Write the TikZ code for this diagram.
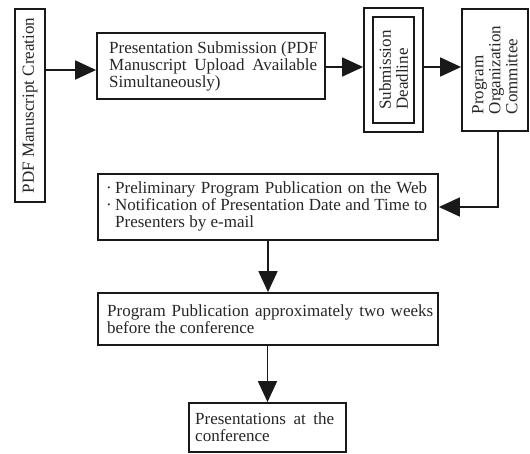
\documentclass[tikz,border=0pt]{standalone}
\usepackage{fontspec}
\setmainfont{Liberation Serif}
\usetikzlibrary{arrows.meta}
\begin{document}
\begin{tikzpicture}[x=1pt,y=-1pt,
  box/.style={draw=black!90, line width=1.8pt, inner sep=0pt, rectangle},
  txt/.style={font=\fontsize{17pt}{17pt}\selectfont, text=black!85, inner sep=0pt},
  arr/.style={draw=black!90, line width=1.8pt, -{Triangle[length=21pt,width=19pt]}}]
\useasboundingbox (0,0) rectangle (530,453);
% boxes
\node[box, minimum width=30pt, minimum height=193pt] (b1) at (30,105.5) {};
\node[txt, rotate=90] (t1) at (b1.center) {PDF Manuscript Creation};

\node[box, minimum width=228pt, minimum height=66pt] (b2) at (211,66) {};
\node[txt, anchor=west, align=left] (t2) at (109,66) {Presentation Submission (PDF\\
\makebox[208pt][s]{Manuscript Upload Available}\\
Simultaneously)};

\node[box, minimum width=59pt, minimum height=124pt] (b3) at (393.5,70) {};
\node[box, minimum width=41pt, minimum height=106pt] (b3i) at (393.5,70) {};
\node[txt, rotate=90, align=left] (t3) at (b3.center) {Submission\\Deadline};

\node[box, minimum width=66pt, minimum height=122pt] (b4) at (495,70) {};
\node[txt, rotate=90, align=left] (t4) at (b4.center) {Program\\Organization\\Committee};

\node[box, minimum width=340pt, minimum height=66pt] (b5) at (268,207) {};
\node[txt, anchor=west] (t5) at (106,207) {\renewcommand\arraystretch{1}%
\begin{tabular}{@{}p{9pt}@{}l@{}}
·&\makebox[312pt][s]{Preliminary Program Publication on the Web}\\
·&\makebox[312pt][s]{Notification of Presentation Date and Time to}\\
&Presenters by e-mail
\end{tabular}};

\node[box, minimum width=340pt, minimum height=52pt] (b6) at (268,319) {};
\node[txt, anchor=west, align=left] (t6) at (107,319) {\makebox[326pt][s]{Program Publication approximately two weeks}\\
before the conference};

\node[box, minimum width=157pt, minimum height=49pt] (b7) at (267.5,427.5) {};
\node[txt, anchor=west, align=left] (t7) at (195,427.5) {\makebox[139pt][s]{Presentations at the}\\
conference};

% connectors
\coordinate (a1) at (0,70);
\coordinate (a2) at (0,67);
\draw[arr] (b1.east |- a1) -- (b2.west |- a1);
\draw[arr] (b2.east |- a2) -- (b3.west |- a2);
\draw[arr] (b3.east |- a2) -- (b4.west |- a2);
\draw[arr] ([xshift=3pt]b4.south) |- (b5.east);
\draw[arr] (b5.south) -- (b5.south |- b6.north);
\draw[arr] (b6.south -| b7.north) -- (b7.north);
\end{tikzpicture}
\end{document}
